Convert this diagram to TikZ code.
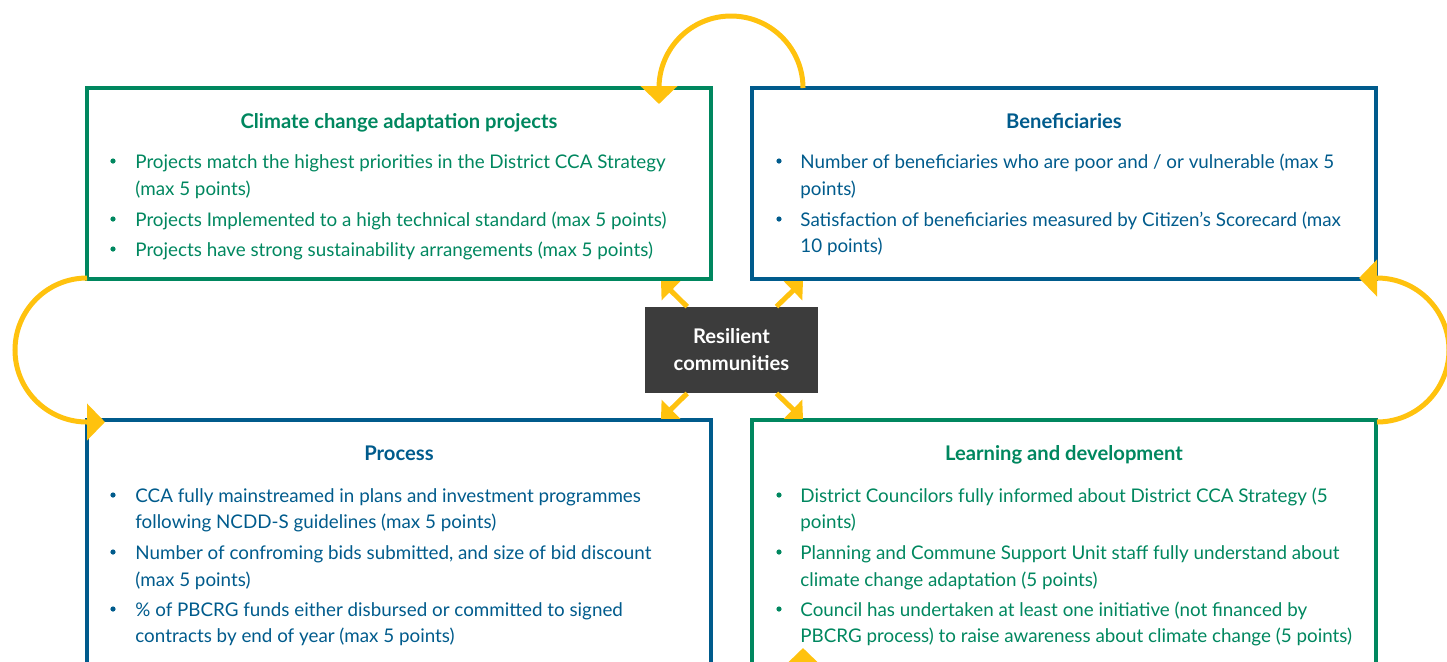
\documentclass[tikz,border=0pt]{standalone}
\usepackage{fontspec}
\setmainfont{Lato}
\usepackage{tikz}
\usetikzlibrary{calc,arrows.meta,positioning}
\definecolor{greenx}{HTML}{00875F}
\definecolor{bluex}{HTML}{005B8C}
\definecolor{goldx}{HTML}{FFC20E}
\definecolor{darkx}{HTML}{3C3C3C}
\newcommand{\bodyfont}{\fontsize{9.4}{11}\selectfont}
\newcommand{\headfont}{\fontsize{10.1}{12}\selectfont\bfseries}
\tikzset{
  topbox/.style={line width=2pt,minimum width=312pt,minimum height=95.5pt,inner sep=0pt,outer sep=0pt},
  lowbox/.style={line width=2pt,minimum width=312pt,minimum height=122pt,inner sep=0pt,outer sep=0pt},
  ttl/.style={font=\headfont,inner sep=0pt,anchor=mid,yshift=-1pt},
  txt/.style={font=\bodyfont,inner sep=0pt,anchor=mid west,yshift=-1pt},
  dot/.style={circle,inner sep=0pt,minimum size=2.6pt},
  cbox/.style={fill=darkx,text=white,minimum width=86.5pt,minimum height=43pt,inner sep=0pt,
    align=center,font=\fontsize{10.1}{13.5}\selectfont\bfseries},
  bigar/.style={goldx,line width=2.5pt,-{Triangle[length=9pt,width=18pt]}},
  smar/.style={goldx,line width=2.5pt,-{Triangle[length=7pt,width=13pt]}}
}

\begin{document}
\begin{tikzpicture}[x=0.5pt,y=-0.5pt]
\useasboundingbox (0,0) rectangle (1447,661);
\clip (0,0) rectangle (1447,661);
% boxes
\node[topbox,draw=greenx] (tl) at (399,183.5) {};
\node[topbox,draw=bluex] (tr) at (1064,183.5) {};
\node[lowbox,draw=bluex] (bl) at (399,542) {};
\node[lowbox,draw=greenx] (br) at (1064,542) {};
% titles
\node[ttl,text=greenx] (tl-t) at (399,121) {Climate change adaptation projects};
\node[ttl,text=bluex] (tr-t) at (1064,121) {Beneficiaries};
\node[ttl,text=bluex] (bl-t) at (399,453) {Process};
\node[ttl,text=greenx] (br-t) at (1064,453) {Learning and development};
% body lines
\foreach \yy/\tx in {161/{Projects match the highest priorities in the District CCA Strategy},
  188/{(max 5 points)},219/{Projects Implemented to a high technical standard (max 5 points)},
  249/{Projects have strong sustainability arrangements (max 5 points)}}
  \node[txt,text=greenx] (tl-\yy) at (135,\yy) {\tx};
\foreach \yy/\tx in {161/{Number of beneficiaries who are poor and / or vulnerable (max 5},
  188/{points)},219/{Satisfaction of beneficiaries measured by Citizen's Scorecard (max},
  245/{10 points)}}
  \node[txt,text=bluex] (tr-\yy) at (800,\yy) {\tx};
\foreach \yy/\tx in {495/{CCA fully mainstreamed in plans and investment programmes},
  521/{following NCDD-S guidelines (max 5 points)},
  552/{Number of confroming bids submitted, and size of bid discount},
  579/{(max 5 points)},609/{\% of PBCRG funds either disbursed or committed to signed},
  635/{contracts by end of year (max 5 points)}}
  \node[txt,text=bluex] (bl-\yy) at (135,\yy) {\tx};
\foreach \yy/\tx in {495/{District Councilors fully informed about District CCA Strategy (5},
  521/{points)},552/{Planning and Commune Support Unit staff fully understand about},
  579/{climate change adaptation (5 points)},
  609/{Council has undertaken at least one initiative (not financed by},
  635/{PBCRG process) to raise awareness about climate change (5 points)}}
  \node[txt,text=greenx] (br-\yy) at (800,\yy) {\tx};
% bullets
\foreach \yy in {161,219,249} \node[dot,fill=greenx] (tl-b\yy) at (113,\yy) {};
\foreach \yy in {161,219} \node[dot,fill=bluex] (tr-b\yy) at (779,\yy) {};
\foreach \yy in {495,552,609} \node[dot,fill=bluex] (bl-b\yy) at (113,\yy) {};
\foreach \yy in {495,552,609} \node[dot,fill=greenx] (br-b\yy) at (779,\yy) {};
% centre
\node[cbox] (cen) at (731.5,350) {Resilient\\communities};
\coordinate (ptl) at (661,281);
\coordinate (ptr) at (803,281);
\coordinate (pbl) at (661,419);
\coordinate (pbr) at (803,419);
\foreach \p in {ptl,ptr,pbl,pbr} \draw[smar] (cen) -- (\p);
% loop arcs
\coordinate (atop) at (803,88);
\coordinate (aleft) at (87,278);
\coordinate (aright) at (1377,422);
\coordinate (abot) at (659,666);
\draw[bigar] (atop) arc[start angle=0,end angle=-180,radius=72] -- ++(0,16);
\draw[bigar] (aleft) arc[start angle=-90,end angle=-270,radius=72] -- ++(18,0);
\draw[bigar] (aright) arc[start angle=90,end angle=-90,radius=72] -- ++(-18,0);
\draw[bigar] (abot) arc[start angle=180,end angle=0,radius=72] -- ++(0,-18);
\end{tikzpicture}
\end{document}
